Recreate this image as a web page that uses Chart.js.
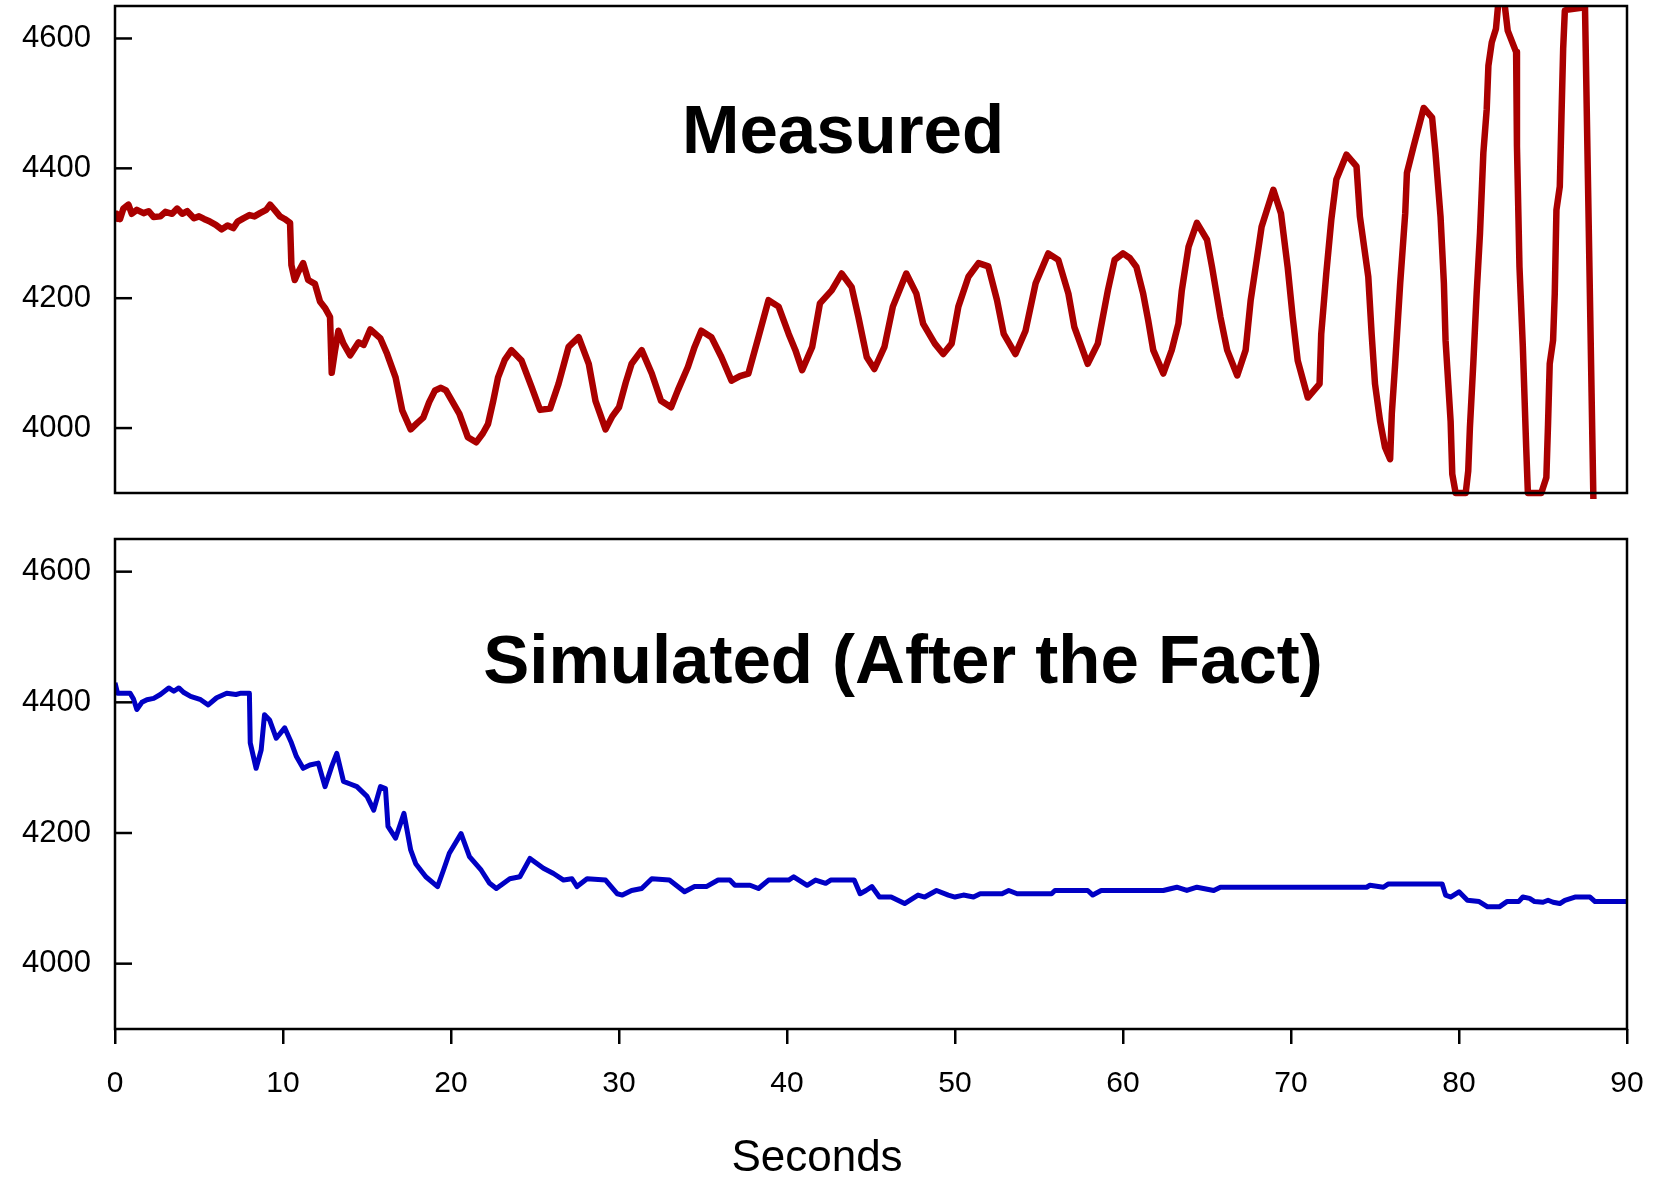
<!DOCTYPE html>
<html>
<head>
<meta charset="utf-8">
<script src="https://cdn.jsdelivr.net/npm/chart.js@4.4.1/dist/chart.umd.min.js"></script>
<style>
  html, body { margin: 0; padding: 0; background: #fff; }
  #wrap { position: relative; width: 1653px; height: 1177px; background: #fff; }
  canvas { position: absolute; left: 0; }
  #c1 { top: 0; }
  #c2 { top: 520px; }
</style>
</head>
<body>
<div id="wrap">
  <canvas id="c1" width="1653" height="520"></canvas>
  <canvas id="c2" width="1653" height="657"></canvas>
</div>
<script>
// ---------- data ----------
const xTickValues = [0, 10, 20, 30, 40, 50, 60, 70, 80, 90];
const yTickValues = [4000, 4200, 4400, 4600];
const measuredTitle = "Measured";
const simulatedTitle = "Simulated (After the Fact)";
const xAxisTitle = "Seconds";

const measuredSeconds = [
  0.0, 0.1, 0.3, 0.5, 0.8, 1.0, 1.3, 1.7, 2.0, 2.3, 2.7, 3.0, 3.4, 3.7, 4.0, 4.3, 4.7, 5.0, 5.3, 5.65,
  6.0, 6.35, 6.7, 7.04, 7.3, 7.64, 8.0, 8.3, 8.63, 9.0, 9.23, 9.5, 9.82, 10.1, 10.42, 10.5, 10.7, 10.9, 11.2, 11.5,
  11.9, 12.2, 12.5, 12.8, 12.9, 13.1, 13.3, 13.6, 14.0, 14.5, 14.8, 15.2, 15.5, 15.8, 16.2, 16.7, 17.1, 17.6, 18.0, 18.35,
  18.7, 19.05, 19.4, 19.7, 20.1, 20.5, 21.0, 21.5, 21.9, 22.2, 22.5, 22.8, 23.2, 23.6, 24.2, 24.8, 25.3, 25.9, 26.4, 27.0,
  27.6, 28.2, 28.6, 29.2, 29.6, 30.0, 30.4, 30.75, 31.35, 31.95, 32.5, 33.1, 33.5, 34.1, 34.5, 34.9, 35.5, 36.1, 36.7, 37.2,
  37.7, 38.3, 38.9, 39.5, 40.1, 40.5, 40.9, 41.5, 41.96, 42.66, 43.25, 43.85, 44.25, 44.75, 45.2, 45.8, 46.3, 47.1, 47.7, 48.1,
  48.8, 49.3, 49.8, 50.2, 50.8, 51.4, 51.98, 52.5, 52.9, 53.6, 54.2, 54.8, 55.55, 56.15, 56.75, 57.1, 57.9, 58.5, 59.1, 59.5,
  60.0, 60.4, 60.8, 61.2, 61.5, 61.8, 62.4, 62.9, 63.3, 63.5, 63.9, 64.4, 65.0, 65.3, 65.8, 66.2, 66.8, 67.3, 67.6, 67.96,
  68.25, 68.95, 69.4, 69.8, 70.1, 70.4, 71.0, 71.7, 71.8, 72.1, 72.4, 72.7, 73.3, 73.9, 74.1, 74.6, 74.8, 75.0, 75.3, 75.6,
  75.9, 76.0, 76.2, 76.5, 76.8, 76.9, 77.3, 77.9, 78.4, 78.6, 78.9, 79.1, 79.2, 79.5, 79.6, 79.8, 80.4, 80.55, 80.65, 80.85,
  81.05, 81.25, 81.45, 81.65, 81.75, 81.95, 82.2, 82.5, 82.9, 83.4, 83.45, 83.6, 83.8, 84.0, 84.1, 84.9, 85.2, 85.3, 85.4, 85.6,
  85.7, 85.8, 86.0, 86.1, 86.2, 86.3, 86.4, 87.5, 88.0
];
const measuredValues = [
  4318, 4330, 4322, 4338, 4344, 4330, 4336, 4331, 4334, 4325, 4326, 4333, 4330, 4338, 4330, 4334, 4323, 4326, 4322, 4318,
  4313, 4306, 4312, 4308, 4318, 4323, 4328, 4326, 4331, 4336, 4344, 4336, 4326, 4322, 4316, 4251, 4228, 4240, 4254, 4228,
  4222, 4195, 4185, 4171, 4085, 4120, 4150, 4130, 4112, 4132, 4128, 4152, 4145, 4138, 4114, 4078, 4027, 3998, 4008, 4016,
  4040, 4058, 4062, 4058, 4040, 4022, 3986, 3978, 3992, 4006, 4040, 4078, 4105, 4120, 4104, 4063, 4028, 4030, 4068, 4125,
  4140, 4099, 4042, 3998, 4018, 4032, 4070, 4099, 4120, 4084, 4042, 4032, 4058, 4094, 4125, 4150, 4140, 4109, 4073, 4080,
  4084, 4140, 4197, 4187, 4145, 4120, 4089, 4125, 4192, 4212, 4238, 4217, 4171, 4109, 4091, 4125, 4187, 4238, 4207, 4161,
  4130, 4114, 4130, 4187, 4233, 4254, 4249, 4197, 4145, 4114, 4150, 4223, 4269, 4259, 4207, 4156, 4099, 4130, 4212, 4259,
  4269, 4262, 4248, 4207, 4166, 4120, 4084, 4120, 4161, 4212, 4279, 4316, 4290, 4248, 4171, 4120, 4081, 4120, 4197, 4259,
  4310, 4367, 4331, 4248, 4171, 4104, 4047, 4068, 4145, 4238, 4321, 4383, 4421, 4403, 4326, 4233, 4145, 4068, 4011, 3970,
  3952, 4022, 4099, 4223, 4331, 4393, 4434, 4493, 4478, 4424, 4326, 4223, 4135, 4011, 3929, 3900, 3900, 3934, 4001, 4099,
  4207, 4300, 4424, 4491, 4558, 4594, 4615, 4700, 4612, 4579, 4434, 4248, 4125, 3970, 3900, 3900, 3924, 4006, 4099, 4135,
  4207, 4336, 4372, 4480, 4584, 4643, 4644, 4648, 3890
];

const simulatedSeconds = [
  0.0, 0.15, 0.9, 1.1, 1.3, 1.6, 1.9, 2.3, 2.7, 3.2, 3.5, 3.8, 4.1, 4.5, 5.1, 5.55, 6.05, 6.65, 7.2, 7.5,
  8.0, 8.05, 8.4, 8.7, 8.9, 9.2, 9.6, 10.1, 10.5, 10.8, 11.2, 11.6, 12.1, 12.5, 12.9, 13.2, 13.6, 14.0, 14.4, 15.0,
  15.4, 15.8, 16.1, 16.25, 16.7, 17.2, 17.6, 17.9, 18.5, 19.2, 19.55, 19.9, 20.6, 21.1, 21.8, 22.3, 22.7, 23.5, 24.1, 24.7,
  25.5, 26.1, 26.7, 27.2, 27.5, 28.1, 29.2, 29.9, 30.2, 30.75, 31.35, 31.95, 33.0, 33.9, 34.5, 35.2, 35.9, 36.6, 36.9, 37.8,
  38.3, 38.9, 40.1, 40.4, 41.2, 41.7, 42.3, 42.6, 44.0, 44.35, 44.7, 45.05, 45.5, 46.2, 47.0, 47.8, 48.2, 48.9, 49.6, 50.0,
  50.5, 51.1, 51.5, 52.8, 53.2, 53.7, 55.75, 55.95, 57.9, 58.2, 58.7, 62.4, 63.2, 63.8, 64.4, 65.4, 65.8, 74.5, 74.7, 75.5,
  75.8, 79.0, 79.2, 79.5, 80.0, 80.5, 81.2, 81.7, 82.4, 82.85, 83.55, 83.8, 84.2, 84.5, 85.0, 85.3, 85.6, 86.0, 86.3, 86.9,
  87.8, 88.1, 90.0
];
const simulatedValues = [
  4430, 4414, 4414, 4405, 4389, 4400, 4404, 4406, 4412, 4422, 4417, 4422, 4415, 4409, 4404, 4396, 4407, 4414, 4412, 4414,
  4414, 4338, 4299, 4327, 4381, 4373, 4345, 4361, 4338, 4317, 4299, 4304, 4307, 4271, 4302, 4322, 4279, 4275, 4271, 4256,
  4235, 4271, 4268, 4210, 4192, 4230, 4174, 4153, 4133, 4118, 4143, 4169, 4199, 4164, 4143, 4123, 4115, 4130, 4133, 4161,
  4146, 4138, 4128, 4130, 4118, 4130, 4128, 4107, 4105, 4112, 4115, 4130, 4128, 4110, 4118, 4118, 4128, 4128, 4120, 4120,
  4115, 4128, 4128, 4133, 4120, 4128, 4123, 4128, 4128, 4107, 4112, 4118, 4102, 4102, 4092, 4105, 4102, 4112, 4105, 4102,
  4105, 4102, 4107, 4107, 4112, 4107, 4107, 4112, 4112, 4105, 4112, 4112, 4117, 4112, 4117, 4112, 4117, 4117, 4120, 4117,
  4122, 4122, 4105, 4102, 4110, 4097, 4095, 4087, 4087, 4095, 4095, 4102, 4100, 4095, 4094, 4097, 4094, 4092, 4097, 4102,
  4102, 4095, 4095
];

// ---------- helpers ----------
const FONT = '"Liberation Sans", Arial, Helvetica, sans-serif';
function toPoints(xs, ys) { return xs.map((x, i) => ({ x: x, y: ys[i] })); }

const framePlugin = {
  id: 'frame',
  afterDatasetsDraw(chart, args, opts) {
    const { ctx, chartArea: a, scales } = chart;
    ctx.save();
    ctx.strokeStyle = '#000';
    ctx.lineWidth = 2.5;
    ctx.lineCap = 'butt';
    ctx.strokeRect(a.left, a.top, a.right - a.left, a.bottom - a.top);
    scales.y.ticks.forEach(t => {
      const y = scales.y.getPixelForValue(t.value);
      ctx.beginPath();
      ctx.moveTo(a.left, y);
      ctx.lineTo(a.left + 17, y);
      ctx.stroke();
    });
    ctx.fillStyle = '#000';
    ctx.textAlign = 'center';
    ctx.textBaseline = 'alphabetic';
    if (opts.title) {
      ctx.font = 'bold 69px ' + FONT;
      ctx.fillText(opts.title, opts.titleX, opts.titleY);
    }
    if (opts.xTitle) {
      ctx.font = '44px ' + FONT;
      ctx.fillText(opts.xTitle, opts.xTitleX, opts.xTitleY);
    }
    ctx.restore();
  }
};

function yScale() {
  return {
    type: 'linear',
    min: 3900,
    max: 4650,
    afterBuildTicks: s => { s.ticks = yTickValues.map(v => ({ value: v })); },
    afterFit: s => { s.width = 115; s.paddingTop = 0; s.paddingBottom = 0; s.paddingLeft = 0; s.paddingRight = 0; },
    grid: { display: false, drawTicks: false },
    border: { display: false },
    ticks: {
      color: '#000',
      font: { family: FONT, size: 31 },
      padding: 24,
      callback: v => String(v)
    }
  };
}

function baseOptions(showX, frameOpts, padTop, padBottom) {
  return {
    responsive: false,
    animation: false,
    devicePixelRatio: 1,
    layout: { padding: { left: 0, right: 26, top: padTop, bottom: padBottom } },
    plugins: {
      legend: { display: false },
      tooltip: { enabled: false },
      frame: frameOpts
    },
    elements: { point: { radius: 0 }, line: { tension: 0 } },
    scales: {
      x: {
        type: 'linear',
        min: 0,
        max: 90,
        display: showX,
        afterBuildTicks: s => { s.ticks = xTickValues.map(v => ({ value: v })); },
        afterFit: s => {
          if (showX) s.height = 148;
          s.paddingLeft = 0; s.paddingRight = 0; s.paddingTop = 0; s.paddingBottom = 0;
        },
        grid: {
          display: true,
          drawOnChartArea: false,
          drawTicks: true,
          tickLength: 15,
          lineWidth: 2.5,
          tickWidth: 2.5,
          color: '#000',
          tickColor: '#000'
        },
        border: { display: false },
        ticks: {
          color: '#000',
          font: { family: FONT, size: 30 },
          padding: 22,
          maxRotation: 0,
          callback: v => String(v)
        }
      },
      y: yScale()
    }
  };
}

new Chart(document.getElementById('c1'), {
  type: 'line',
  data: {
    datasets: [{
      data: toPoints(measuredSeconds, measuredValues),
      borderColor: '#aa0000',
      borderWidth: 6.5,
      borderJoinStyle: 'round',
      fill: false,
      clip: { left: 0, top: 0, right: 0, bottom: 6 }
    }]
  },
  options: baseOptions(false, { title: measuredTitle, titleX: 843, titleY: 153 }, 6, 27),
  plugins: [framePlugin]
});

new Chart(document.getElementById('c2'), {
  type: 'line',
  data: {
    datasets: [{
      data: toPoints(simulatedSeconds, simulatedValues),
      borderColor: '#0000c4',
      borderWidth: 5,
      borderJoinStyle: 'round',
      fill: false,
      clip: { left: 0, top: 0, right: 0, bottom: 6 }
    }]
  },
  options: baseOptions(true, {
    title: simulatedTitle, titleX: 903, titleY: 163,
    xTitle: xAxisTitle, xTitleX: 817, xTitleY: 651
  }, 19, 0),
  plugins: [framePlugin]
});
</script>
</body>
</html>
